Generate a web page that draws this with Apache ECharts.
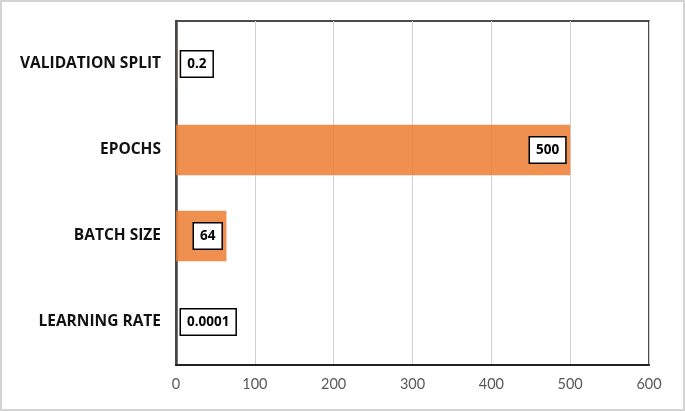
<!DOCTYPE html>
<html>
<head>
<meta charset="utf-8">
<script src="https://cdn.jsdelivr.net/npm/echarts@6/dist/echarts.min.js"></script>
<style>
  html, body { margin: 0; padding: 0; background: #fff; }
  #chart { width: 685px; height: 411px; box-sizing: border-box; border: 2px solid #d4d4d4; }
</style>
</head>
<body>
<div id="chart"></div>
<script>
// bottom to top, as the category axis draws them
const categories = ["LEARNING RATE", "BATCH SIZE", "EPOCHS", "VALIDATION SPLIT"]
const values = [0.0001, 64, 500, 0.2]
const xTicks = [0, 100, 200, 300, 400, 500, 600]

const chart = echarts.init(document.getElementById("chart"))

const labelBox = {
  show: true,
  fontFamily: "Open Sans",
  fontWeight: "bold",
  fontSize: 13.5,
  color: "#000",
  backgroundColor: "#fff",
  borderColor: "#000",
  borderWidth: 1.5,
  padding: [6, 6, 5, 6],
  distance: 5
}

const option = {
  animation: false,
  grid: {
    left: 174,
    right: 34,
    top: 19,
    bottom: 44,
    show: true,
    borderColor: "#111",
    borderWidth: 1.5
  },
  xAxis: {
    type: "value",
    min: xTicks[0],
    max: xTicks[xTicks.length - 1],
    interval: 100,
    axisLine: { show: true, lineStyle: { color: "#222", width: 2 } },
    axisTick: { show: false },
    axisLabel: { color: "#595959", fontFamily: "Lato", fontSize: 14.5, margin: 12 },
    splitLine: { lineStyle: { color: "#d0d0d0", width: 1 } }
  },
  yAxis: {
    type: "category",
    data: categories,
    axisLine: { show: true, lineStyle: { color: "#444", width: 2.5 } },
    axisTick: { show: false },
    axisLabel: { color: "#111", fontFamily: "Open Sans", fontWeight: "bold", fontSize: 15.5, margin: 15 }
  },
  series: [
    {
      type: "bar",
      barWidth: "59%",
      itemStyle: { color: "rgba(237, 125, 49, 0.85)" },
      data: values.map((v) => ({
        value: v,
        label: Object.assign({}, labelBox, { position: v > 10 ? "insideRight" : "right" })
      }))
    }
  ]
}

chart.setOption(option)
</script>
</body>
</html>
